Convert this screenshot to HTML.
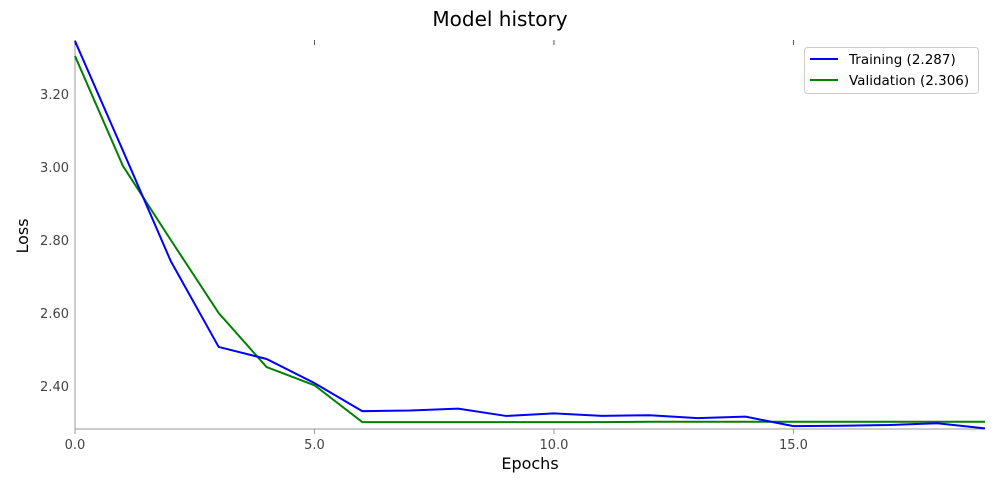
<!DOCTYPE html>
<html><head><meta charset="utf-8"><style>
body{margin:0;background:#fff;font-family:"DejaVu Sans","Liberation Sans",sans-serif;}
</style></head><body>
<svg id="chart" width="1000" height="500" xmlns="http://www.w3.org/2000/svg" font-family="DejaVu Sans, Liberation Sans, sans-serif">
<text x="500" y="26" text-anchor="middle" font-size="20" fill="#000">Model history</text>
<line x1="75" y1="40" x2="75" y2="429" stroke="#999"/>
<line x1="75" y1="429" x2="985" y2="429" stroke="#999"/>
<g id="ticks"></g>
<g id="series"></g>
<text x="530" y="469" text-anchor="middle" font-size="16" fill="#000">Epochs</text>
<text x="28" y="236" text-anchor="middle" font-size="16" fill="#000" transform="rotate(-90 28 236)">Loss</text>
<g>
<rect x="804.5" y="47.5" width="174" height="46" rx="3" fill="#fff" stroke="#ccc"/>
<line x1="810" y1="59" x2="838" y2="59" stroke="#0000ff" stroke-width="2"/>
<text x="849" y="64" font-size="13.5" fill="#000">Training (2.287)</text>
<line x1="810" y1="80" x2="838" y2="80" stroke="#008000" stroke-width="2"/>
<text x="849" y="85" font-size="13.5" fill="#000">Validation (2.306)</text>
</g>
</svg>
<script>
const epochs=[0,1,2,3,4,5,6,7,8,9,10,11,12,13,14,15,16,17,18,19];
const training=[3.345,3.045,2.742,2.507,2.474,2.408,2.331,2.333,2.338,2.318,2.325,2.318,2.320,2.312,2.316,2.290,2.291,2.293,2.298,2.284];
const validation=[3.304,3.003,2.800,2.600,2.452,2.402,2.301,2.301,2.301,2.301,2.301,2.301,2.302,2.302,2.302,2.302,2.302,2.302,2.302,2.302];
const xTicks=[0,5,10,15];
const xTickLabels=["0.0","5.0","10.0","15.0"];
const yTicks=[2.4,2.6,2.8,3.0,3.2];
const yTickLabels=["2.40","2.60","2.80","3.00","3.20"];
const NS="http://www.w3.org/2000/svg";
const X=v=>75+(v-0)*(910/19);
const Y=v=>386-(v-2.4)*365;
const tg=document.getElementById('ticks');
function mk(tag,attrs,parent){const e=document.createElementNS(NS,tag);for(const k in attrs)e.setAttribute(k,attrs[k]);parent.appendChild(e);return e;}
xTicks.forEach((t,i)=>{
  const l=mk('line',{x1:X(t),x2:X(t),y1:429,y2:434,stroke:'#999'},tg);
  
  
  const l2=mk('line',{x1:X(t),x2:X(t),y1:40,y2:45,stroke:'#555'},tg);
  
  
  const tx=mk('text',{x:X(t),y:449,'text-anchor':'middle','font-size':13,fill:'#444'},tg);
  tx.textContent=xTickLabels[i];
  
  
});
yTicks.forEach((t,i)=>{
  const tx=mk('text',{x:69,y:Y(t)+5,'text-anchor':'end','font-size':13,fill:'#444'},tg);
  tx.textContent=yTickLabels[i];
  
  
});
const sg=document.getElementById('series');
function line(vals,color,name){
  const p=mk('polyline',{points:epochs.map((e,i)=>X(e)+','+Y(vals[i])).join(' '),fill:'none',stroke:color,'stroke-width':2},sg);
  
  
}
line(validation,'#008000','validation-line');
line(training,'#0000ff','training-line');
</script>
</body></html>
